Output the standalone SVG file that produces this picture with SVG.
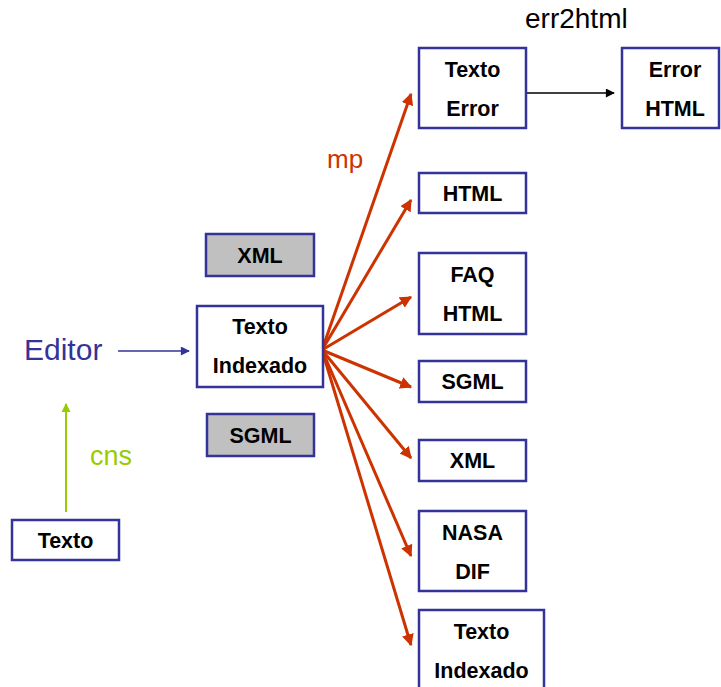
<svg xmlns="http://www.w3.org/2000/svg" width="721" height="687" viewBox="0 0 721 687">
<defs>
<style>
.box{fill:#fff;stroke:#333399;stroke-width:2.5}
.gray{fill:#c0c0c0;stroke:#333399;stroke-width:2.5}
.t{font-family:"Liberation Sans",Arial,sans-serif;font-weight:bold;font-size:21.5px;fill:#000;text-anchor:middle}
.lbl{font-family:"Liberation Sans",Arial,sans-serif}
.red{stroke:#cc3300;stroke-width:3;fill:none}
</style>
<marker id="ar" viewBox="0 0 10 10" refX="9" refY="5" markerWidth="4" markerHeight="4" orient="auto" markerUnits="strokeWidth"><path d="M0,0L10,5L0,10z" fill="#cc3300"/></marker>
<marker id="ab" viewBox="0 0 10 10" refX="9" refY="5" markerWidth="10" markerHeight="9" orient="auto" markerUnits="userSpaceOnUse"><path d="M0,0L10,5L0,10z" fill="#333399"/></marker>
<marker id="ak" viewBox="0 0 10 10" refX="9" refY="5" markerWidth="10" markerHeight="9" orient="auto" markerUnits="userSpaceOnUse"><path d="M0,0L10,5L0,10z" fill="#000"/></marker>
<marker id="ag" viewBox="0 0 10 10" refX="9" refY="5" markerWidth="10" markerHeight="9" orient="auto" markerUnits="userSpaceOnUse"><path d="M0,0L10,5L0,10z" fill="#99cc00"/></marker>
</defs>
<text class="lbl" x="525" y="28" fill="#000" font-size="28">err2html</text>
<text class="lbl" x="327" y="168" fill="#cc3300" font-size="26">mp</text>
<text class="lbl" x="24" y="360" fill="#333399" font-size="30">Editor</text>
<text class="lbl" x="90" y="465" fill="#99cc00" font-size="27">cns</text>
<g id="connectors">
<line x1="526" y1="93" x2="614" y2="93" stroke="#000" stroke-width="1.5" marker-end="url(#ak)"/>
<line x1="118" y1="351" x2="189" y2="351" stroke="#333399" stroke-width="1.5" marker-end="url(#ab)"/>
<line x1="66" y1="512" x2="66" y2="404" stroke="#99cc00" stroke-width="2" marker-end="url(#ag)"/>
<line class="red" x1="322" y1="350" x2="411" y2="94" marker-end="url(#ar)"/>
<line class="red" x1="322" y1="350" x2="411" y2="200" marker-end="url(#ar)"/>
<line class="red" x1="322" y1="350" x2="411" y2="297" marker-end="url(#ar)"/>
<line class="red" x1="322" y1="350" x2="411" y2="387" marker-end="url(#ar)"/>
<line class="red" x1="322" y1="350" x2="411" y2="458" marker-end="url(#ar)"/>
<line class="red" x1="322" y1="350" x2="411" y2="556" marker-end="url(#ar)"/>
<line class="red" x1="322" y1="350" x2="411" y2="645" marker-end="url(#ar)"/>
</g>
<g id="texto-error"><rect class="box" x="419" y="48" width="107" height="80"/><text class="t" x="472.5" y="77">Texto</text><text class="t" x="472.5" y="116">Error</text></g>
<g id="error-html"><rect class="box" x="622" y="48" width="97" height="80"/><text class="t" x="675" y="77">Error</text><text class="t" x="675" y="116">HTML</text></g>
<g id="html"><rect class="box" x="419" y="173" width="107" height="40"/><text class="t" x="472.5" y="201">HTML</text></g>
<g id="faq-html"><rect class="box" x="419" y="253" width="107" height="81"/><text class="t" x="472.5" y="282">FAQ</text><text class="t" x="472.5" y="321">HTML</text></g>
<g id="sgml-out"><rect class="box" x="419" y="361" width="107" height="41"/><text class="t" x="472.5" y="389">SGML</text></g>
<g id="xml-out"><rect class="box" x="419" y="440" width="107" height="41"/><text class="t" x="472.5" y="468">XML</text></g>
<g id="nasa-dif"><rect class="box" x="419" y="511" width="107" height="80"/><text class="t" x="472.5" y="540">NASA</text><text class="t" x="472.5" y="579">DIF</text></g>
<g id="texto-indexado-out"><rect class="box" x="419" y="610" width="125" height="90"/><text class="t" x="481.5" y="639">Texto</text><text class="t" x="481.5" y="678">Indexado</text></g>
<g id="xml-gray"><rect class="gray" x="206" y="234" width="108" height="42"/><text class="t" x="260" y="263">XML</text></g>
<g id="texto-indexado"><rect class="box" x="197" y="306" width="126" height="81"/><text class="t" x="260" y="334">Texto</text><text class="t" x="260" y="373">Indexado</text></g>
<g id="sgml-gray"><rect class="gray" x="207" y="414" width="107" height="42"/><text class="t" x="260.5" y="443">SGML</text></g>
<g id="texto"><rect class="box" x="12" y="520" width="107" height="40"/><text class="t" x="65.5" y="548">Texto</text></g>
</svg>
